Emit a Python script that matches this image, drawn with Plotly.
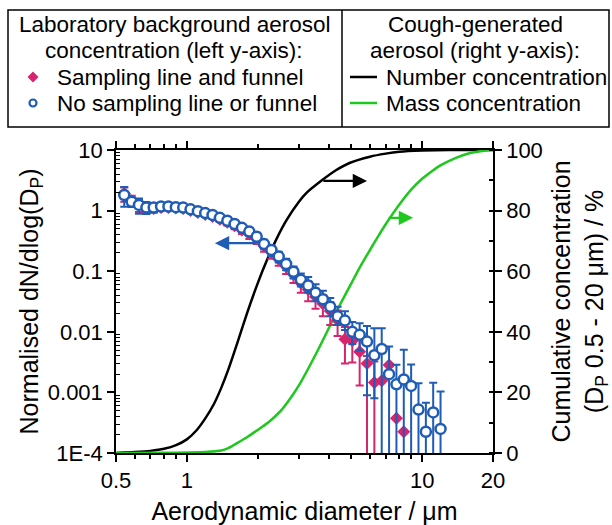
import math
import plotly.graph_objects as go

# ---------------- data ----------------
# aerodynamic diameter channels (um)
diam = [0.542, 0.583, 0.626, 0.673, 0.723, 0.777, 0.835, 0.898, 0.965, 1.037,
        1.114, 1.197, 1.286, 1.382, 1.486, 1.596, 1.715, 1.843, 1.981, 2.129,
        2.288, 2.458, 2.642, 2.839, 3.051, 3.278, 3.523, 3.786, 4.068, 4.371,
        4.698, 5.048, 5.425, 5.829, 6.264, 6.732, 7.234, 7.774, 8.354, 8.977,
        9.647, 10.37, 11.14, 11.97]

# No sampling line or funnel (blue open circles)
no_line = [1.81, 1.40, 1.24, 1.13, 1.13, 1.17, 1.17, 1.14, 1.12, 1.05,
           0.98, 0.91, 0.85, 0.76, 0.68, 0.60, 0.52, 0.45, 0.37, 0.28,
           0.224, 0.174, 0.132, 0.098, 0.072, 0.058, 0.044, 0.0345, 0.026, 0.018,
           0.0153, 0.0100, 0.0089, 0.0069, 0.0041, 0.0052, 0.0020, 0.00136, 0.00164, 0.00128,
           0.00052, 0.000224, 0.000468, 0.00025]
no_line_plus = [0.65, 0.25, 0.35, 0.25, 0.2, 0.12, 0.1, 0.08, 0.08, 0.07,
                0.07, 0.07, 0.07, 0.07, 0.07, 0.07, 0.07, 0.07, 0.06, 0.05,
                0.045, 0.035, 0.028, 0.022, 0.02, 0.022, 0.017, 0.013, 0.01, 0.008,
                0.0065, 0.0045, 0.0049, 0.0056, 0.0073, 0.0062, 0.0037, 0.0015, 0.0034, 0.0016,
                0.0009, 0.00045, 0.00097, 0.00078]
no_line_minus = [0.65, 0.25, 0.35, 0.25, 0.2, 0.12, 0.1, 0.08, 0.08, 0.07,
                 0.07, 0.07, 0.07, 0.07, 0.07, 0.07, 0.07, 0.07, 0.06, 0.05,
                 0.045, 0.035, 0.028, 0.022, 0.016, 0.014, 0.012, 0.006, 0.008, 0.005,
                 0.0046, 0.0037, 0.004, 0.006, 0.0033, 0.0052, 0.0020, 0.00136, 0.00164, 0.00128,
                 0.00052, 0.000224, 0.000468, 0.00025]

# Sampling line and funnel (pink diamonds)
with_line = [1.9, 1.45, 1.25, 1.1, 1.08, 1.12, 1.12, 1.1, 1.08, 1.0,
             0.93, 0.86, 0.8, 0.72, 0.64, 0.56, 0.48, 0.41, 0.34, 0.26,
             0.205, 0.158, 0.12, 0.088, 0.064, 0.05, 0.038, 0.029, 0.022, 0.0155,
             0.0075, 0.0071, 0.0047, 0.0030, 0.00145, 0.00156, 0.00283, 0.000373, 0.000225]
with_line_plus = [0.5, 0.3, 0.3, 0.2, 0.15, 0.08, 0.08, 0.08, 0.08, 0.08,
                  0.07, 0.07, 0.07, 0.07, 0.07, 0.07, 0.07, 0.07, 0.06, 0.05,
                  0.045, 0.035, 0.03, 0.024, 0.02, 0.018, 0.014, 0.011, 0.009, 0.007,
                  0.0045, 0.004, 0.0055, 0.001, 0.0018, 0, 0, 0, 0]
with_line_minus = [0.5, 0.3, 0.3, 0.2, 0.15, 0.08, 0.08, 0.08, 0.08, 0.08,
                   0.07, 0.07, 0.07, 0.07, 0.07, 0.07, 0.07, 0.07, 0.06, 0.05,
                   0.045, 0.035, 0.03, 0.024, 0.02, 0.018, 0.014, 0.011, 0.009, 0.007,
                   0.0045, 0.004, 0.0034, 0.0030, 0.00145, 0, 0, 0, 0]

# Cough-generated aerosol cumulative curves (%)
num_d = [0.5, 0.6, 0.7, 0.8, 0.9, 1.0, 1.1, 1.2, 1.3, 1.4, 1.5, 1.65, 1.8, 2.0,
         2.2, 2.4, 2.66, 3.0, 3.24, 3.75, 4.3, 4.94, 6.0, 7.0, 8.0, 10.0, 13.0, 20.0]
num_cum = [0, 0.3, 0.7, 1.4, 2.6, 4.5, 7.5, 11.5, 16, 21.5, 27.5, 37, 46, 56,
           64, 70.5, 77, 83, 86, 90, 93.3, 95.8, 97.8, 98.8, 99.4, 99.8, 100, 100]
mass_d = [0.5, 0.8, 1.0, 1.2, 1.4, 1.5, 1.68, 1.8, 2.0, 2.25, 2.5, 2.75, 3.03,
          3.5, 4.0, 4.48, 5.0, 5.5, 6.0, 6.5, 7.0, 8.0, 9.0, 10.0, 11.0, 12.0,
          14.0, 16.0, 18.0, 20.0]
mass_cum = [0, 0.05, 0.15, 0.3, 0.8, 1.6, 3.8, 5.2, 7.6, 10.5, 13.8, 18, 23,
            32, 41, 49, 56, 62, 67, 71.5, 75.5, 82, 87, 90.5, 93, 95,
            97.5, 99, 99.7, 100]

x_tickvals = [0.5, 1, 10, 20]
x_ticktext = ["0.5", "1", "10", "20"]
x_minor = [0.6, 0.7, 0.8, 0.9, 2, 3, 4, 5, 6, 7, 8, 9]
yl_tickvals = [1e-4, 1e-3, 1e-2, 1e-1, 1, 10]
yl_ticktext = ["1E-4", "0.001", "0.01", "0.1", "1", "10"]
yl_minor = [m * 10 ** e for e in range(-4, 1) for m in range(2, 10)]
yr_tickvals = [0, 20, 40, 60, 80, 100]

PINK = "#d6246e"
BLUE = "#1f5cb5"
GREEN = "#1ec81e"
FONT = "Liberation Sans, Arial, sans-serif"

# ---------------- figure ----------------
W, H = 612, 525
L, R, T, B = 116, 493, 150, 453
pw, ph = R - L, B - T


def px(x):
    return (x - L) / pw


def py(y):
    return (B - y) / ph


fig = go.Figure()

fig.add_trace(go.Scatter(x=num_d, y=num_cum, mode="lines", yaxis="y",
                         line=dict(color="black", width=2.5, shape="spline", smoothing=0.6),
                         name="Number concentration", showlegend=False))
fig.add_trace(go.Scatter(x=mass_d, y=mass_cum, mode="lines", yaxis="y",
                         line=dict(color=GREEN, width=2.5, shape="spline", smoothing=0.6),
                         name="Mass concentration", showlegend=False))

fig.add_trace(go.Scatter(
    x=diam[:len(with_line)], y=with_line, mode="markers", yaxis="y2",
    marker=dict(symbol="diamond", size=10, color=PINK, line=dict(width=0)),
    error_y=dict(type="data", symmetric=False, array=with_line_plus,
                 arrayminus=with_line_minus, color=PINK, thickness=2, width=4),
    name="Sampling line and funnel", showlegend=False))
fig.add_trace(go.Scatter(
    x=diam[:len(no_line)], y=no_line, mode="markers", yaxis="y2",
    marker=dict(symbol="circle", size=10, color="white", line=dict(width=2.5, color=BLUE)),
    error_y=dict(type="data", symmetric=False, array=no_line_plus,
                 arrayminus=no_line_minus, color=BLUE, thickness=2, width=4),
    name="No sampling line or funnel", showlegend=False))

axis_common = dict(showline=True, linecolor="black", linewidth=1.5, automargin=False,
                   tickcolor="black", tickwidth=1.5, showgrid=False, zeroline=False,
                   tickfont=dict(family=FONT, size=22, color="black"))

fig.update_layout(
    width=W, height=H,
    margin=dict(l=L, r=W - R, t=T, b=H - B, pad=0, autoexpand=False),
    paper_bgcolor="white", plot_bgcolor="white",
    font=dict(family=FONT, color="black"),
    xaxis=dict(type="log", range=[math.log10(0.5), math.log10(20)],
               tickmode="array", tickvals=x_tickvals, ticktext=x_ticktext,
               ticks="outside", ticklen=7, mirror="ticks", ticklabelstandoff=0,
               minor=dict(tickmode="array", tickvals=x_minor, ticks="outside",
                          ticklen=4, tickwidth=1.5, tickcolor="black"),
               title=dict(text="Aerodynamic diameter / μm",
                          font=dict(family=FONT, size=25, color="black"), standoff=16),
               **axis_common),
    yaxis=dict(range=[0, 100], side="right",
               tickmode="array", tickvals=yr_tickvals,
               ticks="outside", ticklen=7,
               minor=dict(dtick=10, ticks="inside", ticklen=4, tickwidth=1.5,
                          tickcolor="black"),
               title=dict(text="Cumulative concentration<br>(D<sub>P</sub> 0.5 - 20 μm) / %",
                          font=dict(family=FONT, size=25, color="black"), standoff=16),
               **axis_common),
    yaxis2=dict(type="log", range=[-4, 1], overlaying="y", side="left",
                tickmode="array", tickvals=yl_tickvals, ticktext=yl_ticktext,
                ticks="outside", ticklen=7,
                minor=dict(tickmode="array", tickvals=yl_minor, ticks="inside",
                           ticklen=4, tickwidth=1, tickcolor="black"),
                title=dict(text="Normalised dN/dlog(D<sub>P</sub>)",
                           font=dict(family=FONT, size=25, color="black"), standoff=2),
                **axis_common),
)

# direction arrows
arrows = [
    # (tip x, tail x, y, axis, color)
    (1.316, 1.985, 0.29, "y2", BLUE),
    (5.83, 3.75, 89.8, "y", "black"),
    (9.15, 7.1, 77.6, "y", GREEN),
]
for tip, tail, yv, yax, col in arrows:
    yy = math.log10(yv) if yax == "y2" else yv
    fig.add_annotation(x=math.log10(tip), y=yy, ax=math.log10(tail), ay=yy,
                       xref="x", yref=yax, axref="x", ayref=yax,
                       showarrow=True, arrowhead=2, arrowsize=1.3, arrowwidth=2.2,
                       arrowcolor=col, text="")

# ---------------- legend box ----------------
box = dict(x0=8, x1=609, y0=10, y1=127)
fig.add_shape(type="rect", xref="paper", yref="paper",
              x0=px(box["x0"]), x1=px(box["x1"]), y0=py(box["y1"]), y1=py(box["y0"]),
              line=dict(color="black", width=1.5), fillcolor="white", layer="above")
fig.add_shape(type="line", xref="paper", yref="paper",
              x0=px(342), x1=px(342), y0=py(box["y1"]), y1=py(box["y0"]),
              line=dict(color="black", width=1.5))

LEG = 22.5


def txt(text, x, y, anchor="center"):
    fig.add_annotation(text=text, x=px(x), y=py(y), xref="paper", yref="paper",
                       xanchor=anchor, yanchor="middle", showarrow=False,
                       font=dict(family=FONT, size=LEG, color="black"))


txt("Laboratory background aerosol", 174, 24)
txt("concentration (left y-axis):", 174, 50)
txt("Sampling line and funnel", 55, 77, "left")
txt("No sampling line or funnel", 55, 103, "left")
txt("Cough-generated", 475, 24)
txt("aerosol (right y-axis):", 475, 50)
txt("Number concentration", 384, 77, "left")
txt("Mass concentration", 384, 103, "left")

# legend symbols
cx, cy, s = 33, 77, 5.5
fig.add_shape(type="path", xref="paper", yref="paper",
              path=f"M {px(cx)},{py(cy - s)} L {px(cx + s)},{py(cy)} L {px(cx)},{py(cy + s)} L {px(cx - s)},{py(cy)} Z",
              fillcolor=PINK, line=dict(width=0))
r = 3.5
fig.add_shape(type="circle", xref="paper", yref="paper",
              x0=px(33 - r), x1=px(33 + r), y0=py(103 + r), y1=py(103 - r),
              line=dict(color=BLUE, width=2.2), fillcolor="white")
fig.add_shape(type="line", xref="paper", yref="paper",
              x0=px(350), x1=px(377), y0=py(77), y1=py(77),
              line=dict(color="black", width=2.5))
fig.add_shape(type="line", xref="paper", yref="paper",
              x0=px(350), x1=px(377), y0=py(103), y1=py(103),
              line=dict(color=GREEN, width=2.5))

fig.write_html("out.html")
